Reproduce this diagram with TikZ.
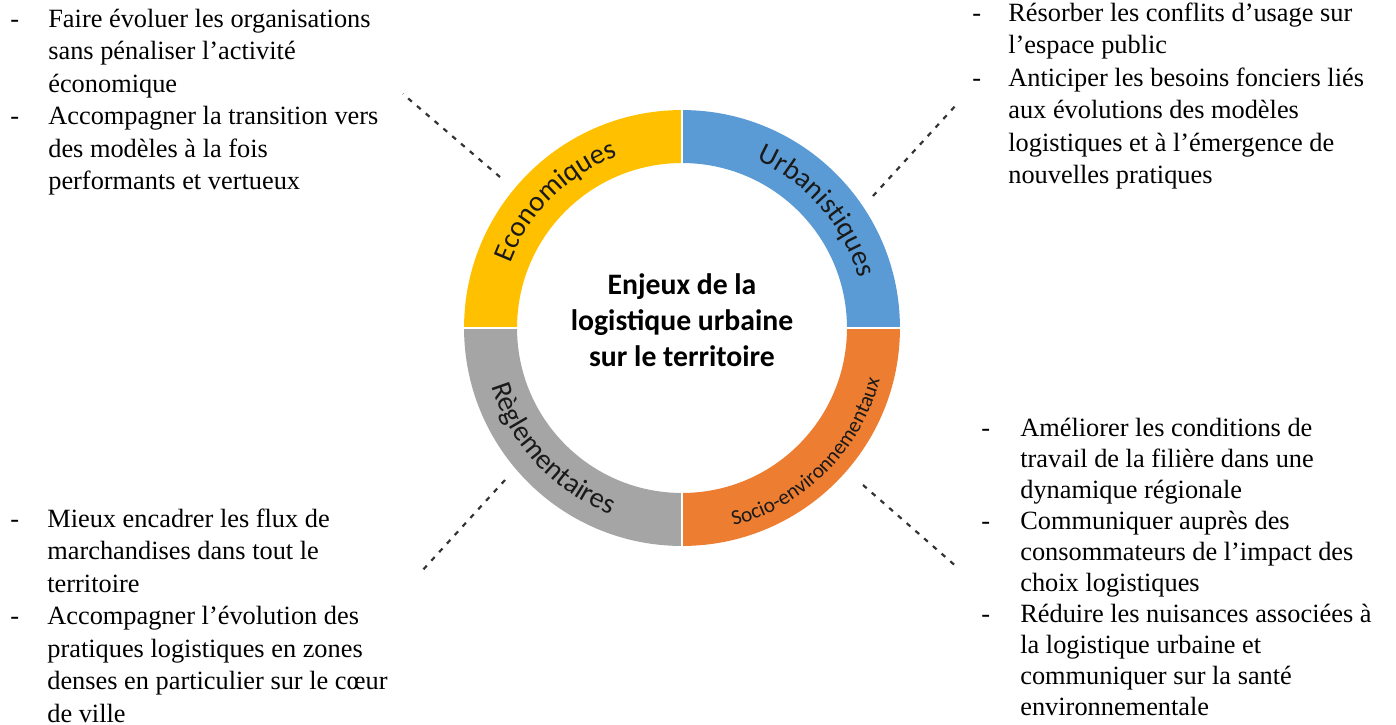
\documentclass[tikz,border=0pt]{standalone}
\usepackage{fontspec}
\setmainfont{Liberation Serif}
\newfontfamily\calib{Carlito}
\usetikzlibrary{calc,decorations.text}
\definecolor{ecoyellow}{HTML}{FFC000}
\definecolor{urbblue}{HTML}{5B9BD5}
\definecolor{socorange}{HTML}{ED7D31}
\definecolor{reggray}{HTML}{A5A5A5}
\definecolor{labeltext}{HTML}{1A1A1A}
\newcommand{\ringfont}{\calib\fontsize{16.3}{19}\selectfont}
\newcommand{\smallringfont}{\calib\fontsize{12.1}{14}\selectfont}
\begin{document}
\begin{tikzpicture}[x=0.02cm,y=0.02cm,
  dashconn/.style={draw=black!80, line width=1.25pt, dash pattern=on 2.8pt off 3.8pt},
  body/.style={anchor=base west, inner sep=0pt, font=\fontsize{15}{18.5}\selectfont},
  bodytight/.style={anchor=base west, inner sep=0pt, font=\fontsize{15}{17.7}\selectfont},
  centertext/.style={anchor=base, inner sep=0pt, font=\calib\bfseries\fontsize{16.9}{20.7}\selectfont}]
\useasboundingbox (0,0) rectangle (1396,-724);
\coordinate (c) at (682,-328);
\def\Ro{4.36cm}
\def\Ri{3.30cm}
% ring sectors
\fill[ecoyellow] ($(c)+(90:\Ro)$) arc[start angle=90,end angle=180,radius=\Ro] -- ($(c)+(180:\Ri)$) arc[start angle=180,end angle=90,radius=\Ri] -- cycle;
\fill[urbblue] ($(c)+(0:\Ro)$) arc[start angle=0,end angle=90,radius=\Ro] -- ($(c)+(90:\Ri)$) arc[start angle=90,end angle=0,radius=\Ri] -- cycle;
\fill[reggray] ($(c)+(180:\Ro)$) arc[start angle=180,end angle=270,radius=\Ro] -- ($(c)+(270:\Ri)$) arc[start angle=270,end angle=180,radius=\Ri] -- cycle;
\fill[socorange] ($(c)+(270:\Ro)$) arc[start angle=270,end angle=360,radius=\Ro] -- ($(c)+(360:\Ri)$) arc[start angle=360,end angle=270,radius=\Ri] -- cycle;
\draw[white, line width=1.2pt] ($(c)+(-230,0)$) -- ($(c)+(230,0)$);
\draw[white, line width=1.2pt] ($(c)+(0,-230)$) -- ($(c)+(0,230)$);
% ring labels
\path[decorate, decoration={text along path, text align=center, text color=labeltext, text={|\ringfont|Economiques}}]
  ($(c)+(175:3.67cm)$) arc[start angle=175, end angle=95, radius=3.67cm];
\path[decorate, decoration={text along path, text align=center, text color=labeltext, text={|\ringfont|Urbanistiques}}]
  ($(c)+(81:3.67cm)$) arc[start angle=81, end angle=1, radius=3.67cm];
\path[decorate, decoration={text along path, text align=center, text color=labeltext, text={|\ringfont|Règlementaires}}]
  ($(c)+(183:3.99cm)$) arc[start angle=183, end angle=263, radius=3.99cm];
\path[decorate, decoration={text along path, text align=center, text color=labeltext, text={|\smallringfont|Socio-environnementaux}}]
  ($(c)+(275:4.09cm)$) arc[start angle=275, end angle=355, radius=4.09cm];
% centre text
\node[centertext] (centre) at (682,-294) {\begin{tabular}[t]{@{}c@{}}Enjeux de la\\ logistique urbaine\\ sur le territoire\end{tabular}};
% text blocks
\node[body] (tl) at (10,-27) {\begin{tabular}[t]{@{}p{0.76cm}@{}l@{}}
- & Faire évoluer les organisations\\
  & sans pénaliser l’activité\\
  & économique\\
- & Accompagner la transition vers\\
  & des modèles à la fois\\
  & performants et vertueux
\end{tabular}};
\node[body] (tr) at (972,-21) {\begin{tabular}[t]{@{}p{0.72cm}@{}l@{}}
- & Résorber les conflits d’usage sur\\
  & l’espace public\\
- & Anticiper les besoins fonciers liés\\
  & aux évolutions des modèles\\
  & logistiques et à l’émergence de\\
  & nouvelles pratiques
\end{tabular}};
\node[body] (bl) at (10,-527) {\begin{tabular}[t]{@{}p{0.74cm}@{}l@{}}
- & Mieux encadrer les flux de\\
  & marchandises dans tout le\\
  & territoire\\
- & Accompagner l’évolution des\\
  & pratiques logistiques en zones\\
  & denses en particulier sur le cœur\\
  & de ville
\end{tabular}};
\node[bodytight] (br) at (981,-436) {\begin{tabular}[t]{@{}p{0.78cm}@{}l@{}}
- & Améliorer les conditions de\\
  & travail de la filière dans une\\
  & dynamique régionale\\
- & Communiquer auprès des\\
  & consommateurs de l’impact des\\
  & choix logistiques\\
- & Réduire les nuisances associées à\\
  & la logistique urbaine et\\
  & communiquer sur la santé\\
  & environnementale
\end{tabular}};
% dashed connectors
\coordinate (tl-ring) at (500,-177);
\coordinate (tl-text) at (403,-94);
\coordinate (tr-ring) at (873,-196);
\coordinate (tr-text) at (957,-104);
\coordinate (bl-ring) at (505,-480);
\coordinate (bl-text) at (421,-572);
\coordinate (br-ring) at (863,-485);
\coordinate (br-text) at (958,-568);
\draw[dashconn] (tl-ring) -- (tl-text);
\draw[dashconn] (tr-ring) -- (tr-text);
\draw[dashconn] (bl-ring) -- (bl-text);
\draw[dashconn] (br-ring) -- (br-text);
\end{tikzpicture}
\end{document}
